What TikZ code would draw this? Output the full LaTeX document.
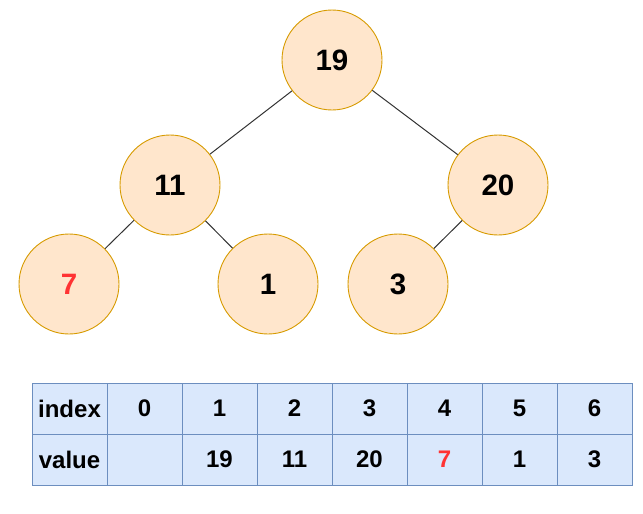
\documentclass[tikz,border=0pt]{standalone}
\usepackage{fontspec}
\setmainfont{Liberation Sans}
\definecolor{nodefill}{HTML}{FFE6CC}
\definecolor{nodeline}{HTML}{D79B00}
\definecolor{cellfill}{HTML}{DAE8FC}
\definecolor{cellline}{HTML}{6C8EBF}
\definecolor{hot}{HTML}{FF3333}
\definecolor{edgecol}{HTML}{333333}
\begin{document}
\begin{tikzpicture}[x=1pt,y=-1pt,
  heapnode/.style={circle,draw=nodeline,fill=nodefill,line width=0.9pt,minimum size=100pt,inner sep=0pt,font=\fontsize{29.5}{29.5}\selectfont\bfseries},
  cell/.style={rectangle,draw=cellline,fill=cellfill,line width=0.9pt,minimum width=75pt,minimum height=51pt,inner sep=0pt,font=\fontsize{24}{24}\selectfont\bfseries},
  edge/.style={draw=edgecol,line width=1pt}]
\useasboundingbox (0,0) rectangle (643,514);
\node[heapnode] (n19) at (332,60) {19};
\node[heapnode] (n11) at (170,185) {11};
\node[heapnode] (n20) at (498,185) {20};
\node[heapnode,text=hot] (n7) at (69,284) {7};
\node[heapnode] (n1) at (268,284) {1};
\node[heapnode] (n3) at (398,284) {3};
\draw[edge] (n19) -- (n11);
\draw[edge] (n19) -- (n20);
\draw[edge] (n11) -- (n7);
\draw[edge] (n11) -- (n1);
\draw[edge] (n20) -- (n3);
\node[cell] (i-h) at (69.5,408.5) {index};
\node[cell] (v-h) at (69.5,459.5) {value};
\foreach \k/\v [count=\j from 0] in {0/{},1/19,2/11,3/20,4/{\textcolor{hot}{7}},5/1,6/3} {
  \node[cell] (i-\k) at (144.5+75*\j,408.5) {\k};
  \node[cell] (v-\k) at (144.5+75*\j,459.5) {\v};
}
\end{tikzpicture}
\end{document}
